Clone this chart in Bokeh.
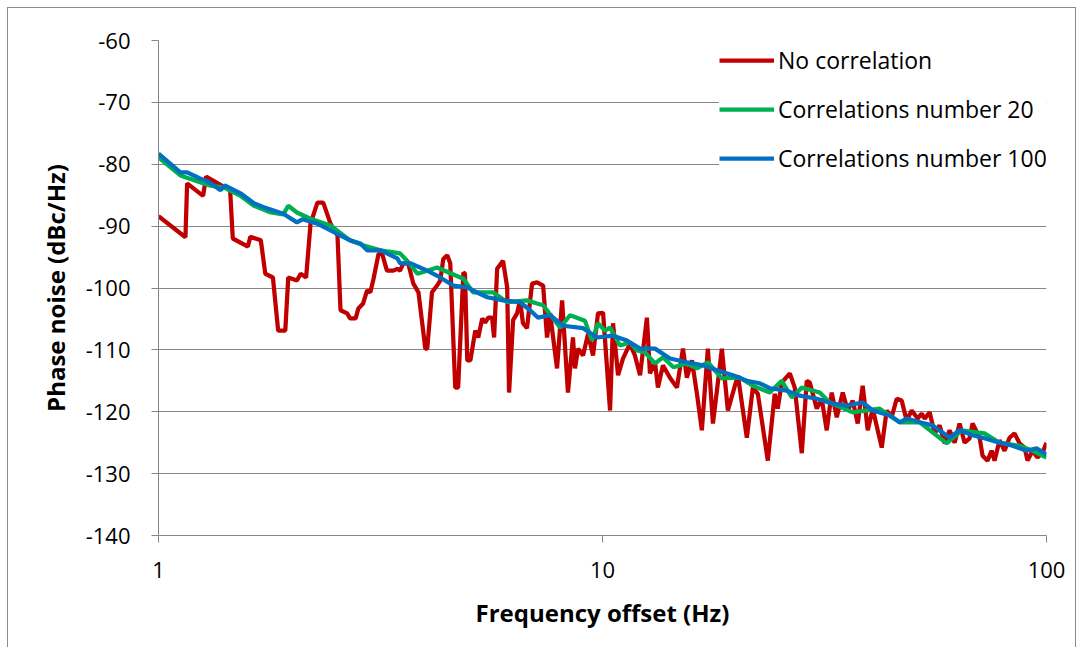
from bokeh.plotting import figure
from bokeh.models import FixedTicker, NumeralTickFormatter, Legend
from bokeh.embed import file_html
from bokeh.resources import INLINE

# ---- data ----
red_f = [1.00, 1.15, 1.16, 1.26, 1.28, 1.36, 1.45, 1.47, 1.59, 1.61, 1.70, 1.74, 1.81, 1.86, 1.93,
         1.96, 2.05, 2.09, 2.15, 2.20, 2.28, 2.35, 2.44, 2.53, 2.57, 2.66, 2.70, 2.78, 2.82, 2.89,
         2.95, 3.00, 3.05, 3.13, 3.19, 3.27, 3.38, 3.45, 3.50, 3.56, 3.65, 3.75, 3.85, 3.99, 4.03,
         4.13, 4.24, 4.31, 4.38, 4.47, 4.54, 4.66, 4.73, 4.86, 4.90, 4.96, 5.04, 5.17, 5.25, 5.36,
         5.44, 5.53, 5.64, 5.70, 5.79, 5.97, 6.10, 6.16, 6.29, 6.42, 6.52, 6.62, 6.76, 6.94, 7.12,
         7.35, 7.50, 7.62, 7.90, 8.11, 8.36, 8.58, 8.67, 8.81, 9.04, 9.28, 9.52, 9.77, 10.03, 10.40,
         10.56, 10.84, 11.12, 11.53, 11.83, 12.15, 12.59, 12.79, 13.13, 13.33, 13.68, 14.19, 14.71,
         15.18, 15.49, 15.90, 16.32, 16.74, 17.27, 17.73, 18.10, 18.57, 19.16, 20.18, 21.14, 21.81,
         22.38, 23.57, 24.43, 24.81, 25.33, 26.42, 27.10, 28.11, 28.84, 29.30, 30.38, 31.17, 31.99,
         32.83, 33.70, 34.76, 35.67, 36.61, 37.57, 38.55, 39.57, 40.61, 42.55, 43.65, 44.80, 45.98,
         47.19, 48.42, 49.70, 51.27, 52.35, 53.17, 54.57, 55.98, 57.45, 58.96, 60.51, 62.09, 63.72,
         65.39, 67.11, 68.16, 70.69, 71.78, 73.67, 75.21, 76.38, 78.39, 80.44, 82.55, 84.72, 86.95,
         89.23, 90.63, 93.01, 95.45, 97.95, 100.0]
red_db = [-88.4, -91.8, -83.1, -85.1, -82.0, -83.1, -84.2, -92.0, -93.3, -91.7, -92.3, -97.7, -98.3, -106.9, -106.9,
          -98.3, -98.8, -97.7, -98.3, -89.6, -86.2, -86.2, -89.6, -91.5, -103.6, -104.1, -104.9, -104.9, -103.3, -102.5,
          -100.4, -100.7, -98.5, -94.5, -94.5, -97.2, -97.2, -96.9, -97.2, -96.0, -96.0, -99.3, -100.7, -109.8, -109.8,
          -100.7, -99.6, -98.8, -95.3, -94.7, -96.0, -116.1, -116.1, -97.5, -97.7, -111.7, -111.7, -106.9, -108.0, -104.9,
          -105.6, -104.8, -104.8, -108.0, -96.9, -95.6, -99.9, -116.9, -105.2, -104.1, -102.0, -105.7, -106.5, -99.3, -99.1,
          -99.6, -108.0, -104.1, -113.0, -102.0, -116.9, -108.0, -113.0, -109.8, -110.9, -107.4, -110.9, -104.1, -104.0, -119.8,
          -105.7, -114.1, -111.4, -109.0, -110.9, -114.1, -104.8, -113.8, -112.0, -116.1, -112.5, -114.5, -116.1,
          -109.8, -114.5, -111.7, -117.1, -123.0, -109.8, -121.9, -116.6, -109.8, -119.8, -114.1, -124.2, -116.1,
          -117.1, -127.9, -117.1, -119.5, -115.3, -113.8, -116.1, -126.7, -115.0, -115.3, -119.5, -117.9, -123.0,
          -116.9, -120.9, -116.9, -119.8, -118.2, -121.9, -115.8, -123.0, -119.5, -125.8, -119.8, -120.9, -117.9,
          -118.2, -121.4, -119.8, -121.1, -120.3, -121.1, -120.1, -123.5, -122.2, -125.1, -123.0, -125.0, -121.9,
          -125.0, -124.3, -121.9, -124.2, -127.1, -127.9, -126.3, -127.9, -124.6, -126.3, -124.2, -123.5, -125.1,
          -125.8, -127.9, -126.3, -127.4, -126.6, -125.0]

green_f = [1.00, 1.12, 1.24, 1.30, 1.41, 1.53, 1.64, 1.79, 1.91, 1.96, 2.05, 2.20, 2.44, 2.70, 2.89,
           3.16, 3.50, 3.63, 3.83, 4.03, 4.24, 4.86, 5.11, 5.67, 6.10, 6.76, 7.12, 7.35, 8.03, 8.45,
           9.13, 9.47, 9.77, 10.13, 10.40, 10.95, 11.53, 11.96, 12.46, 13.13, 13.68, 14.45, 15.49, 16.32,
           17.27, 18.57, 20.39, 21.81, 23.82, 25.33, 26.69, 28.11, 30.85, 32.50, 36.61, 42.10, 46.70,
           51.81, 59.60, 64.40, 72.50, 78.39, 86.95, 93.01, 100.0]
green_db = [-78.9, -81.8, -82.9, -83.4, -83.8, -85.1, -86.7, -87.8, -88.1, -86.7, -87.8, -88.8, -89.9, -92.3, -93.1,
            -93.9, -94.4, -95.6, -97.7, -97.2, -96.7, -98.5, -100.7, -100.7, -102.3, -102.0, -102.5, -102.8, -106.4, -104.4,
            -105.3, -108.5, -105.7, -106.9, -106.4, -109.3, -108.8, -110.1, -110.4, -112.2, -111.2, -112.8, -112.2, -113.0,
            -112.0, -114.6, -114.5, -115.8, -116.9, -115.0, -117.7, -116.1, -116.9, -118.5, -120.1, -119.5, -121.7,
            -121.7, -125.1, -123.0, -123.5, -125.0, -125.5, -126.3, -127.4]

blue_f = [1.00, 1.12, 1.16, 1.24, 1.30, 1.38, 1.41, 1.53, 1.64, 1.72, 1.91, 2.05, 2.11, 2.28, 2.44,
          2.70, 2.85, 2.95, 3.16, 3.45, 3.50, 3.69, 4.03, 4.31, 4.61, 4.96, 5.11, 5.50, 5.97, 6.52,
          6.87, 7.16, 7.62, 8.15, 9.04, 9.72, 10.56, 11.35, 12.15, 13.13, 14.19, 15.49, 16.84, 18.10,
          19.66, 21.14, 22.61, 23.82, 26.01, 27.82, 30.38, 33.01, 35.48, 38.55, 40.61, 44.36, 46.70,
          48.42, 51.81, 55.40, 60.51, 63.72, 68.16, 71.78, 78.39, 83.85, 90.20, 94.96, 100.0]
blue_db = [-78.3, -81.3, -81.3, -82.3, -82.9, -84.2, -83.4, -84.7, -86.3, -86.9, -88.0, -89.4, -88.9, -89.6, -90.7,
           -92.3, -92.8, -93.9, -93.9, -95.2, -96.0, -96.0, -97.2, -98.3, -99.6, -99.9, -100.4, -101.5, -102.0, -102.3,
           -103.6, -104.8, -104.4, -106.1, -106.5, -108.0, -107.7, -108.5, -109.8, -109.8, -111.4, -112.0, -112.5, -113.3,
           -114.1, -115.0, -115.4, -116.2, -116.6, -117.4, -117.9, -118.7, -119.0, -118.5, -119.8, -120.6, -121.7,
           -121.1, -121.7, -122.2, -124.2, -123.0, -123.8, -124.2, -125.0, -125.5, -126.3, -125.9, -126.9]

y_ticks = [-140, -130, -120, -110, -100, -90, -80, -70, -60]
x_ticks = [1, 10, 100]
series_names = ["No correlation", "Correlations number 20", "Correlations number 100"]
series_colors = ["#C00000", "#00B050", "#0070C0"]

FONT = "Open Sans"
AX = "#868686"

p = figure(width=1069, height=640, x_axis_type="log", x_range=(1, 100), y_range=(-140, -60),
           output_backend="svg", toolbar_location=None,
           min_border_left=150, min_border_right=31, min_border_top=32, min_border_bottom=113)
p.styles = {"margin-left": "7px", "margin-top": "7px",
            "border-top": "1px solid #8c8c8c", "border-left": "1px solid #8c8c8c",
            "border-right": "1px solid #8c8c8c"}
p.outline_line_color = None
p.background_fill_color = "white"
p.border_fill_color = "white"

r1 = p.line(red_f, red_db, line_color=series_colors[0], line_width=4.25)
r2 = p.line(green_f, green_db, line_color=series_colors[1], line_width=4.25)
r3 = p.line(blue_f, blue_db, line_color=series_colors[2], line_width=4.25)

p.xgrid.visible = False
p.ygrid.grid_line_color = AX
p.ygrid.grid_line_width = 1

p.xaxis.ticker = FixedTicker(ticks=x_ticks, minor_ticks=[])
p.xaxis.formatter = NumeralTickFormatter(format="0")
p.yaxis.ticker = FixedTicker(ticks=y_ticks, minor_ticks=[])
p.yaxis.major_label_overrides = {t: str(t) for t in y_ticks}

for ax in (p.xaxis[0], p.yaxis[0]):
    ax.axis_line_color = AX
    ax.major_tick_line_color = AX
    ax.major_tick_out = 7
    ax.major_tick_in = 0
    ax.minor_tick_line_color = None
    ax.major_label_text_font = FONT
    ax.major_label_text_font_size = "22px"
    ax.major_label_text_color = "#000000"
    ax.axis_label_text_font = FONT
    ax.axis_label_text_font_style = "bold"
    ax.axis_label_text_font_size = "24px"
    ax.axis_label_text_color = "#000000"

p.xaxis.axis_label = "Frequency offset (Hz)"
p.yaxis.axis_label = "Phase noise (dBc/Hz)"
p.xaxis.major_label_standoff = 19
p.xaxis.axis_label_standoff = 15
p.yaxis.major_label_standoff = 21
p.yaxis.axis_label_standoff = 11

legend = Legend(items=[(series_names[0], [r1]), (series_names[1], [r2]), (series_names[2], [r3])],
                location=(561, 361))
legend.label_text_font = FONT
legend.label_text_font_size = "23px"
legend.label_text_color = "#000000"
legend.glyph_width = 55
legend.glyph_height = 24
legend.label_height = 24
legend.spacing = 17
legend.padding = 8
legend.margin = 0
legend.label_standoff = 4
legend.border_line_color = None
legend.background_fill_color = "white"
legend.background_fill_alpha = 1.0
p.add_layout(legend)

open("out.html", "w").write(file_html(p, INLINE))
